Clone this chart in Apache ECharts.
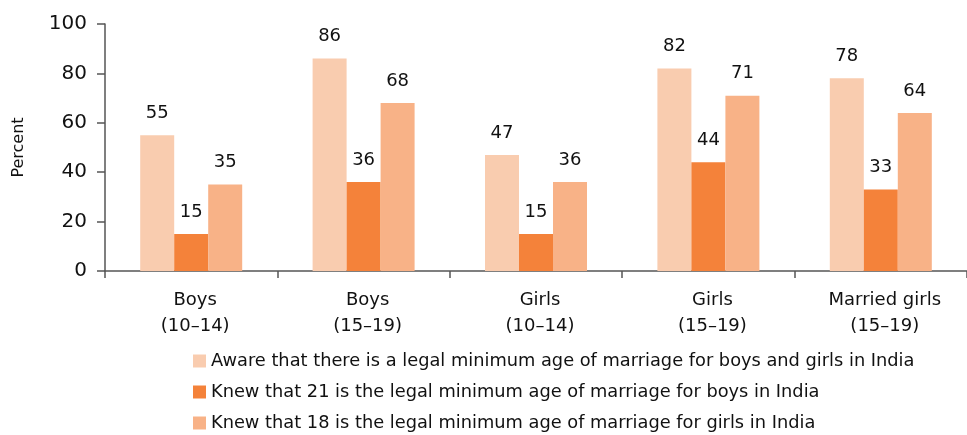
<!DOCTYPE html>
<html>
<head>
<meta charset="utf-8">
<script src="https://cdn.jsdelivr.net/npm/echarts@6/dist/echarts.min.js"></script>
<style>
  html, body { margin: 0; padding: 0; background: #fff; }
  #chart { width: 967px; height: 435px; }
</style>
</head>
<body>
<div id="chart"></div>
<script>
// categories on the x axis
var categories = ['Boys\n(10–14)', 'Boys\n(15–19)', 'Girls\n(10–14)', 'Girls\n(15–19)', 'Married girls\n(15–19)']
var seriesNames = [
  'Aware that there is a legal minimum age of marriage for boys and girls in India',
  'Knew that 21 is the legal minimum age of marriage for boys in India',
  'Knew that 18 is the legal minimum age of marriage for girls in India'
]
var aware = [55, 86, 47, 82, 78]
var knew21 = [15, 36, 15, 44, 33]
var knew18 = [35, 68, 36, 71, 64]
var colors = ['#F9CCAF', '#F4823A', '#F8B287']

var font = 'DejaVu Sans, sans-serif'
var chart = echarts.init(document.getElementById('chart'))

function makeSeries(name, data, color) {
  return {
    name: name,
    type: 'bar',
    data: data,
    barWidth: 34,
    barGap: '0%',
    itemStyle: { color: color },
    label: {
      show: true,
      position: 'top',
      distance: 13,
      color: '#111',
      fontSize: 18,
      fontFamily: font
    }
  }
}

var option = {
  animation: false,
  color: colors,
  grid: {
    top: 24,
    left: 105,
    right: -8,
    bottom: 164
  },
  legend: {
    orient: 'vertical',
    left: 193,
    top: 352,
    height: 90,
    padding: 0,
    itemWidth: 13,
    itemHeight: 13,
    itemGap: 13,
    icon: 'rect',
    textStyle: { fontSize: 17.8, fontFamily: font, color: '#111' },
    data: seriesNames
  },
  xAxis: {
    type: 'category',
    data: categories,
    axisLine: { lineStyle: { color: '#555', width: 1.5 } },
    axisTick: { show: true, length: 7, lineStyle: { color: '#555', width: 1.5 } },
    axisLabel: {
      color: '#111',
      fontSize: 18,
      fontFamily: font,
      lineHeight: 26,
      margin: 16,
      padding: [0, 0, 0, 8]
    }
  },
  yAxis: {
    type: 'value',
    min: 0,
    max: 100,
    interval: 20,
    name: 'Percent',
    nameLocation: 'middle',
    nameGap: 78,
    nameTextStyle: { fontSize: 16, fontFamily: font, color: '#111' },
    splitLine: { show: false },
    axisLine: { show: true, lineStyle: { color: '#555', width: 1.5 } },
    axisTick: { show: true, length: 8, lineStyle: { color: '#555', width: 1.5 } },
    axisLabel: { color: '#111', fontSize: 20, fontFamily: font, margin: 18 }
  },
  series: [
    makeSeries(seriesNames[0], aware, colors[0]),
    makeSeries(seriesNames[1], knew21, colors[1]),
    makeSeries(seriesNames[2], knew18, colors[2])
  ]
}

chart.setOption(option)
</script>
</body>
</html>
